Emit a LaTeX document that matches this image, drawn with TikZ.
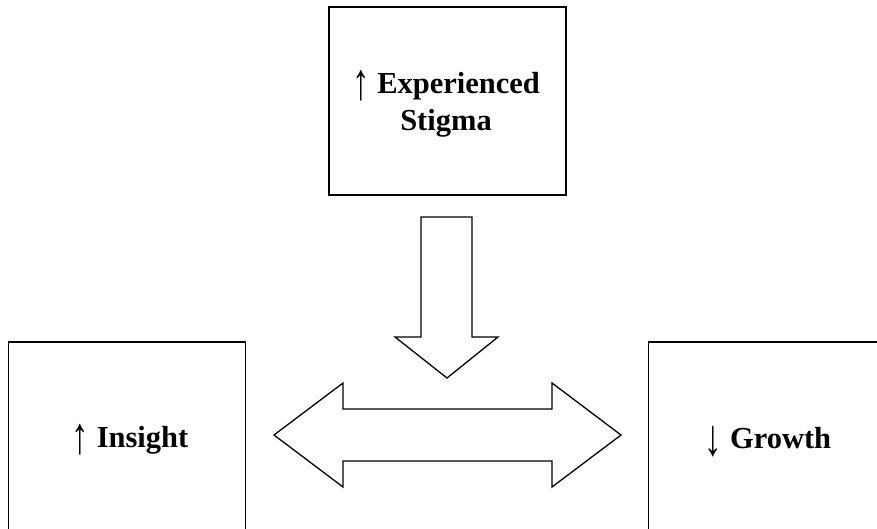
\documentclass[tikz,border=0pt]{standalone}
\usepackage{fontspec}
\usepackage{graphicx}
\setmainfont{Liberation Serif}
\newcommand\myup{\raisebox{-6pt}{\scalebox{1.15}[1.7]{\mdseries ↑}}}
\newcommand\mydown{\raisebox{-7pt}{\scalebox{1.15}[1.7]{\mdseries ↓}}}
\begin{document}
\begin{tikzpicture}[x=1pt,y=-1pt,
  box/.style={draw=black, line width=1.6pt, minimum width=237pt, minimum height=188pt,
    inner sep=0pt, align=center, font=\fontsize{30.5}{37}\selectfont\bfseries},
  lbl/.style={inner sep=0pt, align=center, font=\fontsize{30.5}{37}\selectfont\bfseries, anchor=base},
  blockarrow/.style={draw=black, line width=1.3pt, fill=white, line join=miter}]
\path[use as bounding box, clip] (0,0) rectangle (877,529);
\fill[white] (0,0) rectangle (877,529);
\node[box] (stigma) at (447.5,101) {};
\node[box] (insight) at (127,436) {};
\node[box] (growth) at (767,436) {};
\node[lbl] (stigmaA) at (446,94) {\myup\ Experienced};
\node[lbl] (stigmaB) at (446,131) {Stigma};
\node[lbl] (insightT) at (130,447) {\myup\ Insight};
\node[lbl] (growthT) at (768,448) {\mydown\ Growth};
% down block arrow
\draw[blockarrow] (421,217) -- (472,217) -- (472,337) -- (498,337) -- (447,378)
  -- (395,337) -- (421,337) -- cycle;
% double block arrow
\draw[blockarrow] (274,435) -- (343,383) -- (343,409) -- (552,409) -- (552,383)
  -- (621,435) -- (552,487) -- (552,461) -- (343,461) -- (343,487) -- cycle;
\end{tikzpicture}
\end{document}
